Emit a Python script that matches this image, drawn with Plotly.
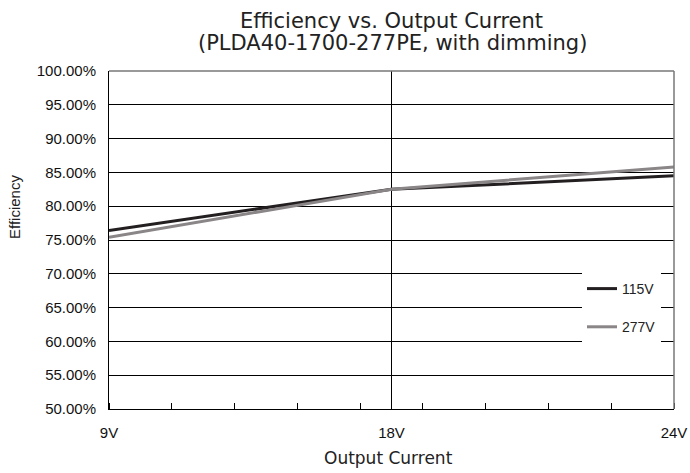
import plotly.graph_objects as go

# ---- data ----
x_labels = ["9V", "18V", "24V"]
x_pos = [0, 1, 2]
eff_115v = [0.764, 0.825, 0.845]
eff_277v = [0.754, 0.825, 0.858]
series_names = ["115V", "277V"]
y_ticks = [0.50, 0.55, 0.60, 0.65, 0.70, 0.75, 0.80, 0.85, 0.90, 0.95, 1.00]

W, H = 690, 473
L, R, T, B = 109, 16, 71, 64
PW, PH = W - L - R, H - T - B


def px_x(sx):  # screen x -> paper x
    return (sx - L) / PW


def px_y(sy):  # screen y -> paper y
    return 1 - (sy - T) / PH


ARIAL = "Liberation Sans, Arial"
VERD = "DejaVu Sans, Verdana"

fig = go.Figure()
fig.add_trace(go.Scatter(x=x_pos, y=eff_115v, mode="lines", name=series_names[0],
                         line=dict(color="#231f20", width=3), legendgroup="a"))
fig.add_trace(go.Scatter(x=x_pos, y=eff_277v, mode="lines", name=series_names[1],
                         line=dict(color="#8a8586", width=3), legendgroup="b"))

fig.update_layout(
    width=W, height=H,
    margin=dict(l=L, r=R, t=T, b=B),
    paper_bgcolor="white", plot_bgcolor="white",
    showlegend=True,
    legend=dict(x=px_x(582), y=px_y(273), xanchor="left", yanchor="top",
                bgcolor="white", borderwidth=0,
                font=dict(family=ARIAL, size=14, color="#222"),
                tracegroupgap=17, itemwidth=30),
    xaxis=dict(range=[0, 2], tickvals=x_pos, ticktext=x_labels,
               showgrid=True, gridcolor="black", gridwidth=1,
               showline=True, linecolor="black", linewidth=1,
               ticks="", zeroline=False, ticklabelstandoff=10, automargin=False,
               minor=dict(dtick=2/9, tick0=0, ticks="inside", ticklen=6,
                          tickcolor="black", showgrid=False),
               tickfont=dict(family=ARIAL, size=15, color="#111")),
    yaxis=dict(range=[0.5, 1.0], tickvals=y_ticks, tickformat=".2%",
               showgrid=True, gridcolor="black", gridwidth=1,
               showline=True, linecolor="black", linewidth=1,
               ticks="inside", ticklen=5, tickcolor="black", zeroline=False,
               ticklabelstandoff=9, automargin=False,
               tickfont=dict(family=ARIAL, size=15, color="#111")),
    annotations=[
        dict(text="Efficiency vs. Output Current", xref="paper", yref="paper",
             x=px_x(391), y=px_y(21), xanchor="center", yanchor="middle",
             showarrow=False, font=dict(family=VERD, size=21, color="#222")),
        dict(text="(PLDA40-1700-277PE, with dimming)", xref="paper", yref="paper",
             x=px_x(392), y=px_y(43), xanchor="center", yanchor="middle",
             showarrow=False, font=dict(family=VERD, size=21, color="#222")),
        dict(text="Output Current", xref="paper", yref="paper",
             x=px_x(388), y=px_y(458), xanchor="center", yanchor="middle",
             showarrow=False, font=dict(family=VERD, size=17, color="#222")),
        dict(text="Efficiency", xref="paper", yref="paper", textangle=-90,
             x=px_x(14), y=px_y(207), xanchor="center", yanchor="middle",
             showarrow=False, font=dict(family=ARIAL, size=15, color="#222")),
    ],
    shapes=[
        dict(type="line", xref="paper", yref="paper", x0=0, x1=1, y0=1, y1=1,
             line=dict(color="#777777", width=1.5), layer="above"),
        dict(type="line", xref="paper", yref="paper", x0=1, x1=1, y0=0, y1=1,
             line=dict(color="#777777", width=1.5), layer="above"),
    ],
)

fig.write_html("out.html", config={"displayModeBar": False},
               post_script="document.body.style.margin='0';document.body.style.overflow='hidden';")
